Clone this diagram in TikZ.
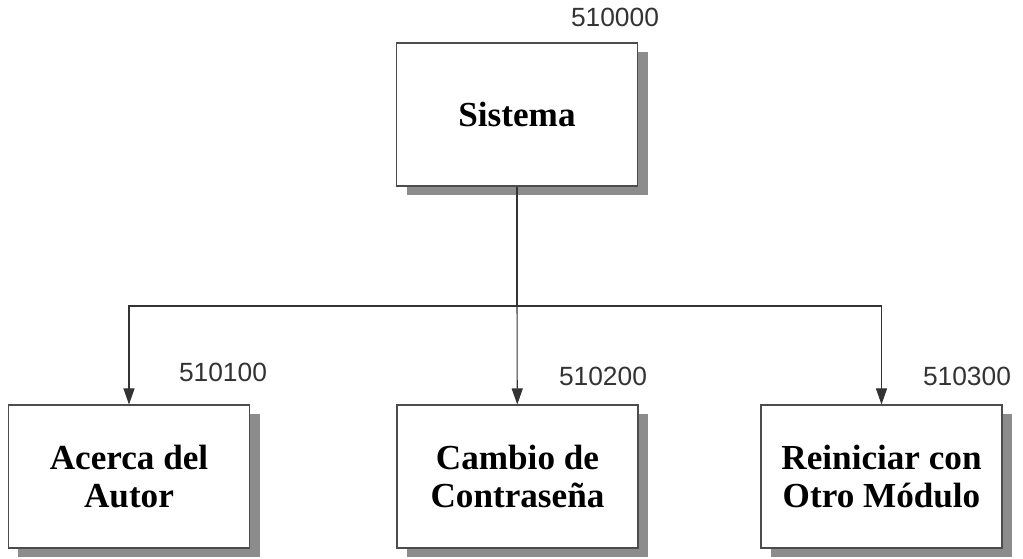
\documentclass[tikz,border=0pt]{standalone}
\usepackage{fontspec}
\setmainfont{Liberation Serif}
\newfontfamily\numfont{Liberation Sans}
\usetikzlibrary{shadows, arrows.meta}

\begin{document}
\begin{tikzpicture}

        % Setup the styles for the modules, their codes and the links
        \tikzset{box style/.style={rectangle,
                                   draw=black!70,
                                   line width=0.6pt,
                                   fill=white,
                                   minimum width=4.82cm,
                                   minimum height=2.86cm,
                                   align=center,
                                   font=\fontsize{20}{21.6}\selectfont\bfseries,
                                   drop shadow={shadow xshift=0.2cm,
                                                shadow yshift=-0.18cm,
                                                fill=black!45,
                                                opacity=1}},
                 code style/.style={font=\numfont\fontsize{15}{18}\selectfont,
                                    text=black!80},
                 link style/.style={line width=0.6pt,
                                    draw=black!80}}

        \useasboundingbox (0, 0) rectangle (20.46, -11.18);

        % Draw the modules
        \node[box style] at (10.34, -2.29) (S) {Sistema};
        \node[box style] at (2.58, -9.53)  (A) {Acerca del\\Autor};
        \node[box style] at (10.35, -9.53) (C) {Cambio de\\Contraseña};
        \node[box style] at (17.63, -9.53) (R) {Reiniciar con\\Otro Módulo};

        % Module codes
        \node[code style] at (12.30, -0.34) (Scode) {510000};
        \node[code style] at (4.46, -7.44)  (Acode) {510100};
        \node[code style] at (12.06, -7.52) (Ccode) {510200};
        \node[code style] at (19.34, -7.52) (Rcode) {510300};

        \coordinate (J) at (10.34, -6.12);

        % Connect the modules
        \draw[link style] (S.south) -- (J);
        \draw[link style, -{Triangle[length=0.32cm, width=0.22cm]}] (J) -| (A);
        \draw[link style, -{Triangle[length=0.32cm, width=0.22cm]}] (J) -- (C);
        \draw[link style, -{Triangle[length=0.32cm, width=0.22cm]}] (J) -| (R);
\end{tikzpicture}
\end{document}
